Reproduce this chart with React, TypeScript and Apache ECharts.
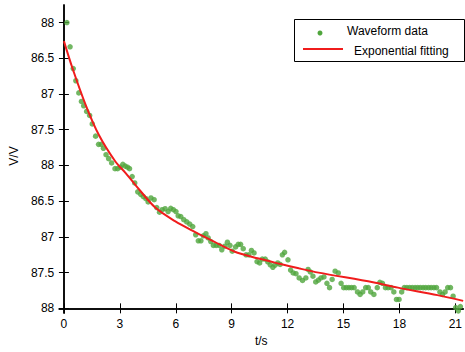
import React, { useEffect, useRef } from "react";
import * as echarts from "echarts";

const xTicks = [0, 3, 6, 9, 12, 15, 18, 21];
const yTickLabels = ["88", "87.5", "87", "86.5", "88", "87.5", "87", "86.5", "88"];
const yTicks = [0, 1, 2, 3, 4, 5, 6, 7, 8];

const waveT = [
  0.16, 0.33, 0.5, 0.64, 0.8, 0.94, 1.06, 1.22, 1.38, 1.52, 1.7, 1.86, 2.0, 2.12, 2.26, 2.4, 2.56, 2.74, 2.88, 3.02,
  3.16, 3.29, 3.41, 3.52, 3.66, 3.8, 3.96, 4.12, 4.26, 4.4, 4.52, 4.67, 4.84, 4.98, 5.13, 5.27, 5.43, 5.59, 5.73, 5.87,
  6.01, 6.13, 6.27, 6.43, 6.59, 6.75, 6.91, 7.07, 7.21, 7.35, 7.48, 7.62, 7.74, 7.88, 8.02, 8.17, 8.33, 8.47, 8.63, 8.77,
  8.91, 9.03, 9.21, 9.35, 9.48, 9.62, 9.77, 9.92, 10.06, 10.2, 10.36, 10.5, 10.64, 10.8, 10.94, 11.07, 11.21, 11.33, 11.47, 11.6,
  11.72, 11.84, 12.02, 12.16, 12.3, 12.45, 12.62, 12.8, 12.98, 13.1, 13.22, 13.36, 13.51, 13.65, 13.79, 13.95, 14.11, 14.25, 14.39, 14.55,
  14.72, 14.87, 15.01, 15.15, 15.29, 15.43, 15.57, 15.75, 15.89, 16.03, 16.19, 16.33, 16.46, 16.63, 16.81, 16.95, 17.09, 17.25, 17.39, 17.55,
  17.7, 17.84, 17.98, 18.12, 18.26, 18.4, 18.55, 18.69, 18.84, 18.98, 19.12, 19.27, 19.41, 19.56, 19.7, 19.85, 19.99, 20.17, 20.31, 20.45,
  20.59, 20.74, 20.88, 21.02, 21.16, 21.27,
];
const waveV = [
  8.0, 7.32, 6.71, 6.37, 6.03, 5.79, 5.67, 5.51, 5.4, 5.16, 4.82, 4.59, 4.59, 4.48, 4.3, 4.19, 4.07, 3.91, 3.91, 3.95,
  4.03, 3.98, 3.95, 3.91, 3.69, 3.51, 3.26, 3.19, 3.13, 3.07, 2.98, 3.09, 3.04, 2.82, 2.69, 2.76, 2.79, 2.71, 2.8, 2.76,
  2.71, 2.59, 2.57, 2.48, 2.42, 2.36, 2.29, 2.06, 1.89, 1.89, 2.03, 2.09, 1.97, 1.87, 1.76, 1.76, 1.76, 1.64, 1.74, 1.85,
  1.76, 1.6, 1.72, 1.79, 1.79, 1.67, 1.5, 1.5, 1.62, 1.55, 1.31, 1.27, 1.38, 1.38, 1.3, 1.22, 1.15, 1.21, 1.27, 1.23,
  1.5, 1.57, 1.36, 1.07, 0.99, 0.97, 0.85, 0.78, 0.85, 1.09, 1.02, 0.9, 0.74, 0.79, 0.85, 0.88, 0.7, 0.58, 0.81, 1.04,
  0.99, 0.7, 0.58, 0.58, 0.58, 0.58, 0.58, 0.46, 0.39, 0.46, 0.58, 0.58, 0.46, 0.39, 0.58, 0.73, 0.7, 0.58, 0.58, 0.58,
  0.46, 0.25, 0.25, 0.46, 0.58, 0.58, 0.58, 0.58, 0.58, 0.58, 0.58, 0.58, 0.58, 0.58, 0.58, 0.58, 0.58, 0.46, 0.39, 0.46,
  0.58, 0.58, 0.34, 0.02, -0.07, 0.05,
];

const fitT = [0, 0.46, 1.17, 1.87, 2.76, 3.29, 3.84, 4.9, 5.96, 7.02, 8.08, 9.14, 10.39, 11.63, 12.6, 13.66, 16.58, 17.92, 20.04, 21.42];
const fitV = [7.48, 6.72, 5.69, 4.86, 4.11, 3.8, 3.45, 2.82, 2.44, 2.14, 1.86, 1.59, 1.4, 1.24, 1.12, 1.0, 0.73, 0.58, 0.37, 0.21];

const FONT = "'Liberation Sans', Arial, sans-serif";
const X_MIN = -0.25;
const X_MAX = 21.42;
const Y_MIN = -0.13;
const Y_MAX = 8.49;
const GREEN = "#4fa53c";
const RED = "#f01c1c";

export default function App() {
  const ref = useRef<HTMLDivElement>(null);
  useEffect(() => {
    if (!ref.current) return;
    const chart = echarts.init(ref.current, null, { renderer: "svg" });
    const axisLine = { show: true, lineStyle: { color: "#000", width: 1.5 } };
    const option: any = {
      animation: false,
      backgroundColor: "#fff",
      grid: { left: 58, top: 5, right: -1, bottom: 38, containLabel: false },
      xAxis: [
        {
          type: "value",
          position: "bottom",
          min: X_MIN,
          max: X_MAX,
          name: "t/s",
          nameLocation: "middle",
          nameGap: 22,
          nameTextStyle: { fontFamily: FONT, fontSize: 12, color: "#000" },
          axisLine,
          axisTick: { show: true, inside: true, length: 5, customValues: xTicks, lineStyle: { color: "#000" } },
          axisLabel: { show: true, customValues: xTicks, fontFamily: FONT, fontSize: 12, color: "#000", margin: 5 },
          splitLine: { show: false },
        },
        {
          type: "value",
          position: "top",
          min: X_MIN,
          max: X_MAX,
          axisLine,
          axisTick: { show: true, inside: true, length: 5, customValues: xTicks, lineStyle: { color: "#000" } },
          axisLabel: { show: false },
          splitLine: { show: false },
        },
      ],
      yAxis: [
        {
          type: "value",
          position: "left",
          min: Y_MIN,
          max: Y_MAX,
          name: "V/V",
          nameLocation: "middle",
          nameGap: 38,
          nameTextStyle: { fontFamily: FONT, fontSize: 12, color: "#000", padding: [0, 0, 0, 6] },
          axisLine,
          axisTick: { show: true, inside: true, length: 5, customValues: yTicks, lineStyle: { color: "#000" } },
          axisLabel: {
            show: true,
            customValues: yTicks,
            fontFamily: FONT,
            fontSize: 12,
            color: "#000",
            margin: 5,
            formatter: (v: number) => yTickLabels[Math.round(v)] ?? "",
          },
          splitLine: { show: false },
        },
        {
          type: "value",
          position: "right",
          min: Y_MIN,
          max: Y_MAX,
          axisLine,
          axisTick: { show: true, inside: true, length: 5, customValues: yTicks, lineStyle: { color: "#000" } },
          axisLabel: { show: false },
          splitLine: { show: false },
        },
      ],
      series: [
        {
          type: "scatter",
          name: "Waveform data",
          data: waveT.map((t, i) => [t, waveV[i]]),
          symbol: "circle",
          symbolSize: 5.5,
          itemStyle: { color: GREEN },
          clip: false,
          z: 2,
        },
        {
          type: "line",
          name: "Exponential fitting",
          data: fitT.map((t, i) => [t, fitV[i]]),
          showSymbol: false,
          smooth: 0.3,
          lineStyle: { color: RED, width: 2 },
          z: 3,
        },
      ],
      graphic: [
        {
          type: "rect",
          shape: { x: 294.5, y: 19.5, width: 170, height: 42 },
          style: { fill: "#fff", stroke: "#000", lineWidth: 1 },
          z: 10,
        },
        { type: "circle", shape: { cx: 320, cy: 33, r: 2.5 }, style: { fill: GREEN }, z: 11 },
        {
          type: "text",
          x: 347,
          y: 31,
          style: { text: "Waveform data", fontFamily: FONT, fontSize: 12, fill: "#000", verticalAlign: "middle", align: "left" },
          z: 11,
        },
        {
          type: "line",
          shape: { x1: 303, y1: 49, x2: 343, y2: 49 },
          style: { stroke: RED, lineWidth: 2 },
          z: 11,
        },
        {
          type: "text",
          x: 354,
          y: 50.5,
          style: { text: "Exponential fitting", fontFamily: FONT, fontSize: 12, fill: "#000", verticalAlign: "middle", align: "left" },
          z: 11,
        },
      ],
    };
    chart.setOption(option);
    return () => chart.dispose();
  }, []);
  return <div ref={ref} style={{ width: 465, height: 352, position: "absolute", left: 0, top: 0 }} />;
}
